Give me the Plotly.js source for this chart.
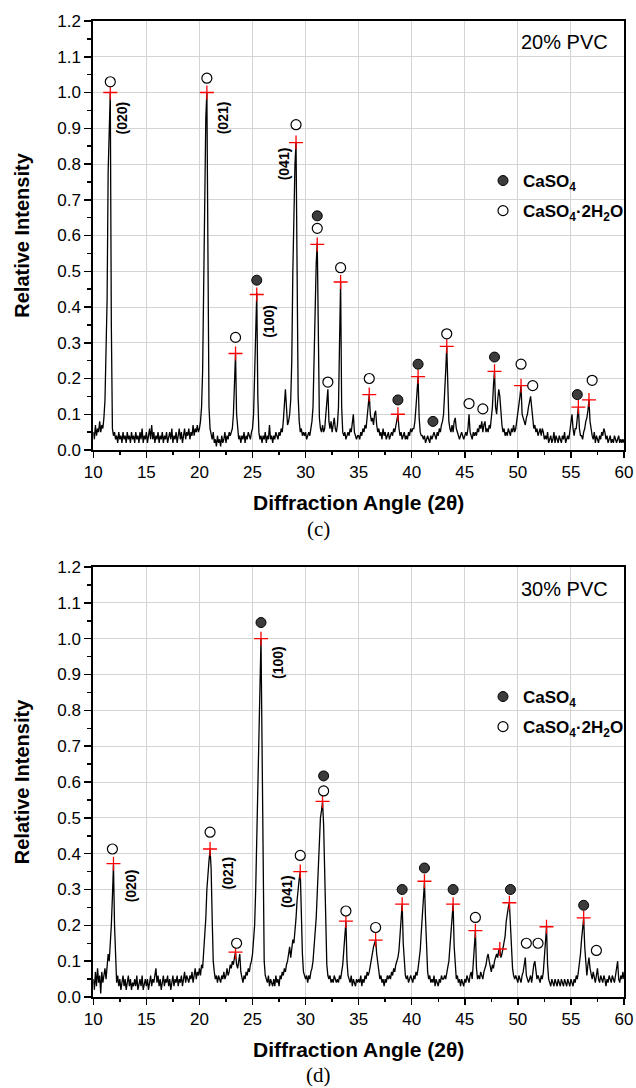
<!DOCTYPE html>
<html>
<head>
<meta charset="utf-8">
<script src="https://cdn.plot.ly/plotly-3.0.1.min.js"></script>
<style>html,body{margin:0;padding:0;background:#fff;}#chart{width:636px;height:1088px;}</style>
</head>
<body>
<div id="chart"></div>
<script>
// ---------- DATA ----------
// 2θ grid: start 10°, step 0.1° (Plotly x0/dx)
var twoThetaStart = 10;
var twoThetaStep = 0.1;

// (c) 20% PVC  relative intensity, 10.0 ... 60.0
var intensity20 = [
0.05,0.03,0.07,0.04,0.06,0.05,0.08,0.05,0.07,0.06,
0.09,0.14,0.28,0.42,0.78,0.92,1.00,0.35,0.06,0.04,
0.05,0.03,0.04,0.02,0.05,0.03,0.04,0.02,0.05,0.03,
0.04,0.02,0.05,0.03,0.04,0.02,0.05,0.03,0.04,0.02,
0.05,0.03,0.04,0.02,0.05,0.03,0.06,0.02,0.04,0.03,
0.05,0.02,0.04,0.06,0.03,0.07,0.03,0.05,0.02,0.04,
0.03,0.05,0.02,0.04,0.03,0.05,0.02,0.04,0.03,0.05,
0.02,0.04,0.05,0.03,0.06,0.02,0.04,0.03,0.05,0.02,
0.04,0.06,0.03,0.05,0.02,0.04,0.06,0.03,0.05,0.04,
0.06,0.03,0.05,0.04,0.07,0.04,0.06,0.05,0.07,0.05,
0.06,0.08,0.12,0.22,0.45,0.80,0.93,1.00,0.40,0.12,
0.06,0.04,0.03,0.05,0.02,0.03,0.01,0.04,0.02,0.03,
0.01,0.04,0.02,0.03,0.05,0.02,0.04,0.03,0.05,0.04,
0.05,0.06,0.10,0.18,0.27,0.10,0.05,0.03,0.04,0.02,
0.04,0.03,0.05,0.02,0.04,0.03,0.05,0.04,0.03,0.05,
0.06,0.10,0.20,0.30,0.44,0.15,0.05,0.03,0.04,0.02,
0.04,0.03,0.05,0.02,0.04,0.03,0.07,0.03,0.04,0.02,
0.04,0.03,0.05,0.04,0.03,0.05,0.04,0.06,0.05,0.08,
0.12,0.17,0.12,0.07,0.08,0.10,0.14,0.25,0.50,0.72,
0.80,0.86,0.40,0.15,0.08,0.05,0.06,0.04,0.05,0.04,
0.05,0.03,0.04,0.05,0.04,0.06,0.08,0.12,0.25,0.45,
0.52,0.58,0.25,0.09,0.06,0.05,0.07,0.05,0.06,0.09,
0.12,0.17,0.08,0.06,0.08,0.05,0.07,0.09,0.06,0.05,
0.07,0.12,0.30,0.47,0.12,0.05,0.04,0.05,0.03,0.04,
0.05,0.04,0.06,0.05,0.07,0.10,0.05,0.04,0.03,0.04,
0.04,0.03,0.05,0.04,0.06,0.05,0.07,0.06,0.09,0.12,
0.155,0.10,0.08,0.09,0.07,0.10,0.11,0.07,0.05,0.06,
0.04,0.05,0.03,0.06,0.04,0.05,0.03,0.04,0.05,0.03,
0.04,0.05,0.04,0.06,0.05,0.07,0.09,0.10,0.06,0.04,
0.05,0.03,0.04,0.05,0.03,0.04,0.03,0.05,0.04,0.06,
0.05,0.06,0.06,0.08,0.12,0.17,0.205,0.09,0.05,0.04,
0.04,0.03,0.04,0.02,0.03,0.04,0.03,0.02,0.04,0.03,
0.04,0.05,0.04,0.03,0.05,0.04,0.06,0.05,0.07,0.08,
0.10,0.15,0.22,0.29,0.18,0.08,0.06,0.05,0.07,0.05,
0.08,0.09,0.06,0.05,0.04,0.03,0.04,0.05,0.04,0.03,
0.04,0.05,0.04,0.06,0.10,0.05,0.04,0.03,0.05,0.04,
0.05,0.04,0.06,0.05,0.07,0.06,0.08,0.05,0.07,0.08,
0.05,0.06,0.05,0.07,0.06,0.09,0.12,0.18,0.22,0.12,
0.10,0.14,0.17,0.15,0.10,0.07,0.05,0.06,0.04,0.05,
0.04,0.06,0.05,0.04,0.06,0.05,0.07,0.05,0.06,0.08,
0.10,0.12,0.15,0.18,0.10,0.09,0.08,0.07,0.09,0.10,
0.12,0.14,0.15,0.12,0.08,0.06,0.07,0.05,0.06,0.04,
0.05,0.06,0.04,0.06,0.05,0.03,0.04,0.03,0.05,0.02,
0.03,0.04,0.02,0.03,0.05,0.02,0.04,0.03,0.02,0.04,
0.03,0.02,0.04,0.03,0.05,0.02,0.03,0.04,0.03,0.05,
0.07,0.10,0.06,0.04,0.06,0.06,0.09,0.12,0.06,0.04,
0.04,0.03,0.05,0.06,0.08,0.09,0.11,0.14,0.08,0.05,
0.04,0.03,0.05,0.02,0.04,0.03,0.02,0.04,0.03,0.05,
0.04,0.06,0.05,0.03,0.04,0.02,0.03,0.04,0.02,0.03,
0.02,0.04,0.03,0.02,0.03,0.04,0.02,0.03,0.02,0.03,
0.02
];

// (d) 30% PVC  relative intensity, 10.0 ... 60.0
var intensity30 = [
0.05,0.02,0.07,0.03,0.08,0.04,0.06,0.01,0.07,0.04,
0.06,0.08,0.05,0.10,0.12,0.10,0.14,0.20,0.28,0.37,
0.20,0.08,0.04,0.06,0.03,0.05,0.02,0.04,0.06,0.03,
0.05,0.02,0.04,0.06,0.03,0.05,0.02,0.04,0.03,0.05,
0.03,0.06,0.02,0.04,0.05,0.03,0.06,0.02,0.04,0.05,
0.03,0.05,0.02,0.04,0.06,0.03,0.05,0.04,0.07,0.08,
0.04,0.06,0.03,0.05,0.02,0.04,0.06,0.03,0.05,0.04,
0.06,0.03,0.05,0.02,0.04,0.06,0.03,0.05,0.04,0.06,
0.03,0.05,0.04,0.06,0.03,0.05,0.07,0.04,0.06,0.05,
0.04,0.06,0.05,0.07,0.04,0.06,0.08,0.05,0.07,0.06,
0.08,0.06,0.09,0.08,0.12,0.16,0.22,0.30,0.36,0.38,
0.41,0.36,0.22,0.10,0.07,0.05,0.06,0.04,0.06,0.05,
0.04,0.06,0.05,0.07,0.05,0.06,0.08,0.06,0.07,0.09,
0.08,0.10,0.09,0.11,0.125,0.09,0.08,0.10,0.12,0.07,
0.05,0.04,0.06,0.05,0.07,0.06,0.08,0.07,0.09,0.10,
0.12,0.15,0.20,0.30,0.45,0.62,0.80,0.95,1.00,0.70,
0.30,0.10,0.06,0.05,0.04,0.06,0.03,0.05,0.04,0.03,
0.05,0.03,0.06,0.04,0.05,0.03,0.06,0.05,0.07,0.06,
0.08,0.07,0.09,0.10,0.12,0.14,0.11,0.13,0.16,0.15,
0.18,0.22,0.27,0.31,0.33,0.35,0.22,0.12,0.07,0.06,
0.05,0.06,0.04,0.06,0.05,0.07,0.08,0.10,0.13,0.18,
0.22,0.30,0.38,0.45,0.50,0.52,0.545,0.48,0.32,0.16,
0.09,0.06,0.05,0.06,0.04,0.05,0.04,0.06,0.05,0.04,
0.05,0.04,0.06,0.05,0.07,0.09,0.13,0.18,0.21,0.10,
0.06,0.05,0.04,0.06,0.03,0.05,0.04,0.03,0.05,0.04,
0.05,0.04,0.06,0.03,0.05,0.04,0.06,0.05,0.07,0.06,
0.07,0.09,0.11,0.13,0.14,0.15,0.16,0.12,0.09,0.07,
0.05,0.06,0.04,0.05,0.03,0.05,0.04,0.06,0.05,0.06,
0.05,0.07,0.06,0.08,0.07,0.09,0.10,0.11,0.13,0.18,
0.24,0.26,0.15,0.09,0.06,0.05,0.06,0.04,0.05,0.06,
0.05,0.04,0.06,0.05,0.07,0.06,0.08,0.10,0.13,0.18,
0.24,0.29,0.32,0.22,0.12,0.07,0.05,0.06,0.04,0.05,
0.04,0.06,0.03,0.05,0.04,0.03,0.05,0.04,0.06,0.05,
0.05,0.06,0.05,0.07,0.08,0.10,0.14,0.19,0.24,0.26,
0.14,0.08,0.05,0.06,0.04,0.05,0.03,0.05,0.04,0.03,
0.05,0.04,0.06,0.05,0.04,0.06,0.07,0.05,0.09,0.14,
0.185,0.08,0.05,0.06,0.05,0.07,0.06,0.05,0.07,0.08,
0.09,0.11,0.12,0.10,0.08,0.07,0.09,0.08,0.10,0.11,
0.12,0.11,0.13,0.134,0.11,0.12,0.14,0.16,0.17,0.21,
0.24,0.25,0.263,0.20,0.12,0.08,0.06,0.05,0.06,0.05,
0.04,0.06,0.05,0.04,0.06,0.07,0.09,0.11,0.06,0.05,
0.04,0.05,0.06,0.04,0.07,0.09,0.10,0.07,0.05,0.06,
0.05,0.04,0.06,0.05,0.07,0.11,0.16,0.195,0.09,0.05,
0.04,0.03,0.05,0.04,0.03,0.05,0.04,0.03,0.05,0.04,
0.03,0.05,0.04,0.03,0.05,0.04,0.03,0.05,0.04,0.03,
0.05,0.04,0.03,0.05,0.04,0.06,0.05,0.07,0.09,0.12,
0.16,0.20,0.22,0.14,0.08,0.06,0.09,0.11,0.08,0.06,
0.05,0.07,0.05,0.04,0.06,0.08,0.05,0.04,0.06,0.05,
0.04,0.06,0.05,0.03,0.05,0.04,0.06,0.05,0.04,0.06,
0.05,0.04,0.06,0.08,0.10,0.05,0.04,0.06,0.05,0.07,
0.05
];

// phase markers, 20% PVC
var anhydrite20X = [25.4, 31.1, 38.7, 40.6, 42.0, 47.8, 55.6];
var anhydrite20Y = [0.475, 0.655, 0.14, 0.24, 0.08, 0.26, 0.155];
var gypsum20X = [11.6, 20.7, 23.4, 29.1, 31.1, 32.1, 33.3, 36.0, 43.3, 45.4, 46.7, 50.3, 51.4, 57.0];
var gypsum20Y = [1.03, 1.04, 0.315, 0.91, 0.62, 0.19, 0.51, 0.20, 0.325, 0.13, 0.115, 0.24, 0.18, 0.195];
var peak20X = [11.6, 20.7, 23.4, 25.4, 29.1, 31.1, 33.3, 36.0, 38.7, 40.6, 43.3, 47.8, 50.3, 55.7, 56.7];
var peak20Y = [1.0, 1.0, 0.27, 0.435, 0.86, 0.575, 0.47, 0.155, 0.10, 0.205, 0.29, 0.22, 0.18, 0.12, 0.14];

// phase markers, 30% PVC
var anhydrite30X = [25.8, 31.7, 39.1, 41.2, 43.9, 49.3, 56.2];
var anhydrite30Y = [1.045, 0.617, 0.30, 0.36, 0.30, 0.30, 0.256];
var gypsum30X = [11.8, 21.0, 23.5, 29.5, 31.7, 33.8, 36.6, 46.0, 50.8, 51.9, 57.4];
var gypsum30Y = [0.413, 0.46, 0.15, 0.395, 0.575, 0.24, 0.194, 0.222, 0.15, 0.15, 0.13];
var peak30X = [11.9, 21.0, 23.4, 25.8, 29.5, 31.6, 33.8, 36.6, 39.1, 41.2, 43.9, 46.0, 48.3, 49.2, 52.7, 56.2];
var peak30Y = [0.372, 0.413, 0.125, 1.0, 0.35, 0.546, 0.212, 0.159, 0.259, 0.323, 0.259, 0.185, 0.134, 0.263, 0.196, 0.221];

// Miller-index labels
var hkl20Text = ['(020)', '(021)', '(041)', '(100)'];
var hkl20X = [12.7, 22.2, 28.0, 26.6];
var hkl20Y = [0.93, 0.93, 0.80, 0.36];
var hkl30Text = ['(020)', '(021)', '(041)', '(100)'];
var hkl30X = [13.5, 22.7, 28.2, 27.4];
var hkl30Y = [0.31, 0.345, 0.294, 0.935];

var panelLabels = ['20% PVC', '30% PVC'];
var panelCaptions = ['(c)', '(d)'];
var phaseNames = ['<b>CaSO<sub>4</sub></b>', '<b>CaSO<sub>4</sub>·2H<sub>2</sub>O</b>'];

// ---------- STYLE ----------
var sans = 'Arial, "Liberation Sans", sans-serif';
var serif = '"Times New Roman", "Liberation Serif", serif';

function traces(yArr, ax, ay, gx, gy, px, py, xa, ya, leg) {
  return [
    {type:'scatter', mode:'lines', x0:twoThetaStart, dx:twoThetaStep, y:yArr, xaxis:xa, yaxis:ya,
     line:{color:'#000', width:1.3}, showlegend:false, hoverinfo:'skip'},
    {type:'scatter', mode:'markers', x:px, y:py, xaxis:xa, yaxis:ya, showlegend:false,
     marker:{symbol:'cross-thin', size:10, line:{color:'#ff0000', width:1.3}}},
    {type:'scatter', mode:'markers', x:ax, y:ay, xaxis:xa, yaxis:ya, name:phaseNames[0],
     legend:leg, legendgroup:leg+'a',
     marker:{symbol:'circle', size:10, color:'#3c3c3c', line:{color:'#000', width:1}}},
    {type:'scatter', mode:'markers', x:gx, y:gy, xaxis:xa, yaxis:ya, name:phaseNames[1],
     legend:leg, legendgroup:leg+'b',
     marker:{symbol:'circle', size:10, color:'#fff', line:{color:'#000', width:1.2}}}
  ];
}

var data = [].concat(
  traces(intensity20, anhydrite20X, anhydrite20Y, gypsum20X, gypsum20Y, peak20X, peak20Y, 'x', 'y', 'legend'),
  traces(intensity30, anhydrite30X, anhydrite30Y, gypsum30X, gypsum30Y, peak30X, peak30Y, 'x2', 'y2', 'legend2')
);

var W = 636, H = 1088;
var xDom = [93.3 / W, 624 / W];
var yDomTop = [1 - 450 / H, 1 - 21 / H];
var yDomBot = [1 - 997 / H, 1 - 567 / H];

function xAxis(anchor) {
  return {
    domain: xDom, anchor: anchor, range: [10, 60], tickvals: [10,15,20,25,30,35,40,45,50,55,60],
    ticks: 'outside', ticklen: 6, tickwidth: 1.5, tickcolor: '#000',
    minor: {dtick: 2.5, tick0: 10, ticks: 'outside', ticklen: 3, tickwidth: 1.5, tickcolor: '#000', showgrid: false},
    showline: true, linewidth: 2, linecolor: '#000', mirror: true,
    showgrid: true, gridcolor: '#d4d4d4', gridwidth: 1, zeroline: false,
    tickfont: {family: sans, size: 17, color: '#000'},
    title: {text: '<b>Diffraction Angle (2θ)</b>', font: {family: sans, size: 21, color: '#000'}, standoff: 14}
  };
}
function yAxis(anchor, dom) {
  return {
    domain: dom, anchor: anchor, range: [0, 1.2], tickvals: [0,0.1,0.2,0.3,0.4,0.5,0.6,0.7,0.8,0.9,1.0,1.1,1.2],
    tickformat: '.1f',
    ticks: 'outside', ticklen: 7, tickwidth: 1.5, tickcolor: '#000',
    minor: {dtick: 0.05, tick0: 0, ticks: 'outside', ticklen: 4, tickwidth: 1.5, tickcolor: '#000', showgrid: false},
    showline: true, linewidth: 2, linecolor: '#000', mirror: true,
    showgrid: true, gridcolor: '#d4d4d4', gridwidth: 1, zeroline: false,
    tickfont: {family: sans, size: 17, color: '#000'},
    title: {text: '<b>Relative Intensity</b>', font: {family: sans, size: 20, color: '#000'}, standoff: 22}
  };
}

var annotations = [];
function hkl(texts, xs, ys, xr, yr) {
  for (var i = 0; i < texts.length; i++) {
    annotations.push({xref: xr, yref: yr, x: xs[i], y: ys[i], text: '<b>' + texts[i] + '</b>',
      showarrow: false, textangle: -90, font: {family: sans, size: 14, color: '#000'}});
  }
}
hkl(hkl20Text, hkl20X, hkl20Y, 'x', 'y');
hkl(hkl30Text, hkl30X, hkl30Y, 'x2', 'y2');
annotations.push({xref: 'x domain', yref: 'y domain', x: 0.974, y: 0.952, xanchor: 'right', yanchor: 'middle',
  text: panelLabels[0], showarrow: false, font: {family: sans, size: 20, color: '#000'}});
annotations.push({xref: 'x2 domain', yref: 'y2 domain', x: 0.974, y: 0.949, xanchor: 'right', yanchor: 'middle',
  text: panelLabels[1], showarrow: false, font: {family: sans, size: 20, color: '#000'}});
annotations.push({xref: 'paper', yref: 'paper', x: 318 / W, y: 1 - 529 / H, xanchor: 'center', yanchor: 'middle',
  text: panelCaptions[0], showarrow: false, font: {family: serif, size: 21, color: '#000'}});
annotations.push({xref: 'paper', yref: 'paper', x: 318 / W, y: 1 - 1075 / H, xanchor: 'center', yanchor: 'middle',
  text: panelCaptions[1], showarrow: false, font: {family: serif, size: 21, color: '#000'}});

function legendBox(yTopPx) {
  return {x: 483 / W, y: 1 - yTopPx / H, xanchor: 'left', yanchor: 'top', bgcolor: 'rgba(0,0,0,0)',
    borderwidth: 0, font: {family: sans, size: 17, color: '#000'}, traceorder: 'grouped',
    tracegroupgap: 5, itemwidth: 30, itemclick: false};
}

var layout = {
  width: W, height: H, margin: {l: 0, r: 0, t: 0, b: 0},
  paper_bgcolor: '#fff', plot_bgcolor: '#fff', showlegend: true,
  xaxis: xAxis('y'), yaxis: yAxis('x', yDomTop),
  xaxis2: xAxis('y2'), yaxis2: yAxis('x2', yDomBot),
  legend: legendBox(163), legend2: legendBox(679),
  annotations: annotations
};

Plotly.newPlot('chart', data, layout, {staticPlot: true, displayModeBar: false});
</script>
</body>
</html>
